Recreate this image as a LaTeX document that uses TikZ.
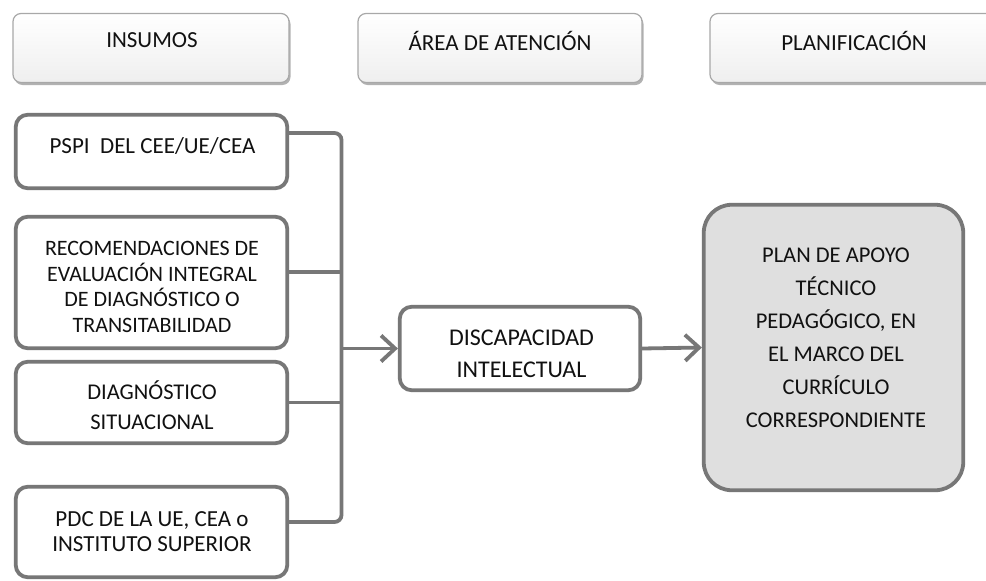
\documentclass[tikz,border=0pt]{standalone}
\usepackage{fontspec}
\setmainfont{Carlito}
\usetikzlibrary{arrows.meta,shadows,calc}
\definecolor{edgegray}{HTML}{777777}
\definecolor{headborder}{HTML}{A8A8A8}
\definecolor{planfill}{HTML}{DFDFDF}
\definecolor{txt}{HTML}{111111}
\tikzset{
  headbox/.style={draw=headborder, line width=1.2pt, rounded corners=8pt,
    top color=white, bottom color=gray!13, minimum height=69pt,
    drop shadow={shadow xshift=1.5pt, shadow yshift=-2.5pt, opacity=0.3, fill=black}},
  inbox/.style={draw=edgegray, line width=3.8pt, rounded corners=12pt, fill=white,
    minimum width=271.5pt},
  labeltext/.style={text=txt, align=center, inner sep=0pt},
  conn/.style={draw=edgegray, line width=3.8pt},
  arr/.style={conn, -{Straight Barb[length=14pt,width=26pt]}},
}
\begin{document}
\begin{tikzpicture}[x=1pt,y=-1pt]
\useasboundingbox[fill=white] (0,0) rectangle (986,581);
% headers
\node[headbox, minimum width=276pt] (h1) at (151,48) {};
\node[headbox, minimum width=284pt] (h2) at (500,48) {};
\node[headbox, minimum width=288pt] (h3) at (854,48) {};
\node[labeltext, font=\fontsize{23}{26}\selectfont] (h1t) at (152,40.5) {INSUMOS};
\node[labeltext, font=\fontsize{23}{26}\selectfont] (h2t) at (500,40.5) {ÁREA DE ATENCIÓN};
\node[labeltext, font=\fontsize{23}{26}\selectfont] (h3t) at (854,40.5) {PLANIFICACIÓN};
% input boxes
\node[inbox, minimum height=73.5pt] (pspi) at (151.5,151.5) {};
\node[inbox, minimum height=131.5pt] (recom) at (151.5,282.5) {};
\node[inbox, minimum height=81.5pt] (diag) at (151.5,402.5) {};
\node[inbox, minimum height=90.5pt] (pdc) at (151.5,532) {};
\node[labeltext, font=\fontsize{23}{26}\selectfont] (pspit) at (152.5,146.5) {PSPI\ \ DEL CEE/UE/CEA};
\node[labeltext, font=\fontsize{22}{25.7}\selectfont] (recomt) at (152,287) {RECOMENDACIONES DE\\EVALUACIÓN INTEGRAL\\DE DIAGNÓSTICO O\\TRANSITABILIDAD};
\node[labeltext, font=\fontsize{22.5}{30}\selectfont] (diagt) at (152,405) {DIAGNÓSTICO\\SITUACIONAL};
\node[labeltext, font=\fontsize{23}{25}\selectfont] (pdct) at (152,532) {PDC DE LA UE, CEA o\\INSTITUTO SUPERIOR};
% middle and right
\node[inbox, minimum width=240.5pt, minimum height=83.5pt] (disc) at (520,348.5) {};
\node[labeltext, font=\fontsize{24}{32}\selectfont] (disct) at (521.5,353.5) {DISCAPACIDAD\\INTELECTUAL};
\node[inbox, fill=planfill, rounded corners=28pt, minimum width=259.5pt, minimum height=285.5pt] (plan) at (833.5,347.5) {};
\node[labeltext, font=\fontsize{22.5}{33}\selectfont] (plant) at (836,338) {PLAN DE APOYO\\TÉCNICO\\PEDAGÓGICO, EN\\EL MARCO DEL\\CURRÍCULO\\CORRESPONDIENTE};
% bracket
\coordinate (btop) at (341.5,133);
\coordinate (bbot) at (341.5,522);
\draw[conn, rounded corners=7pt] (pspi.east |- btop) -- (btop) -- (bbot) -- (pdc.east |- bbot);
\draw[conn] (recom.east |- 0,272) -- (btop |- 0,272);
\draw[conn] (diag.east) -- (diag.east -| btop);
\draw[arr] (btop |- disc.west) -- (disc.west);
\draw[arr] (disc.east) -- (plan.west);
\end{tikzpicture}
\end{document}
